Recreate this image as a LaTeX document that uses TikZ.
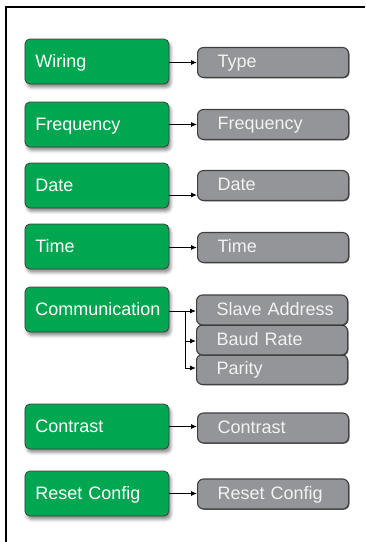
\documentclass[tikz,border=0pt]{standalone}
\usepackage{fontspec}
\setmainfont{Liberation Sans}
\usetikzlibrary{arrows.meta,shadows.blur,shadows}
\definecolor{sgreen}{RGB}{0,166,80}
\definecolor{sgray}{RGB}{147,149,152}
\definecolor{sborder}{RGB}{64,64,64}
\tikzset{
  gbox/.style={rectangle, rounded corners=5pt, fill=sgreen, draw=sborder, line width=0.8pt,
    text=white, font=\fontsize{18}{20}\selectfont, align=left, text width=123pt, inner xsep=10.5pt,
    minimum height=45pt, text height=12.9pt, text depth=0pt, anchor=west,
    blur shadow={shadow xshift=2pt, shadow yshift=-3.5pt, shadow blur radius=3pt, shadow opacity=45}},
  tbox/.style={rectangle, rounded corners=6pt, fill=sgray, draw=sborder, line width=1.1pt,
    text=white!95!black, font=\fontsize{18}{20}\selectfont, align=left, text width=131pt, inner xsep=10pt,
    minimum height=30pt, text height=12.9pt, text depth=2pt, anchor=west,
    execute at begin node={\hspace*{10pt}},
    drop shadow={shadow xshift=1pt, shadow yshift=-0.8pt, fill=black, opacity=0.6}},
  arr/.style={line width=0.9pt, black, -{Latex[length=6pt,width=5pt]}},
  frame/.style={line width=1.3pt, black}
}
\begin{document}
\begin{tikzpicture}[x=1pt,y=-1pt]
\useasboundingbox (0,0) rectangle (365,542);
\coordinate (f1) at (6,542);
\coordinate (f2) at (6,7);
\coordinate (f3) at (365,7);
\draw[frame] (f1) -- (f2) -- (f3);

\node[gbox] (wiring) at (24.5,61.5) {Wiring};
\node[gbox] (freq) at (24.5,124.5) {Frequency};
\node[gbox] (date) at (24.5,185.5) {Date};
\node[gbox] (time) at (24.5,246.5) {Time};
\node[gbox] (comm) at (24.5,309.5) {Communication};
\node[gbox] (contrast) at (24.5,426.5) {Contrast};
\node[gbox] (reset) at (24.5,493.5) {Reset Config};

\node[tbox] (type) at (197,62.5) {Type};
\node[tbox] (gfreq) at (197,124.5) {Frequency};
\node[tbox] (gdate) at (197,185.5) {Date};
\node[tbox] (gtime) at (197,247.5) {Time};
\node[tbox] (parity) at (196,369.5) {Parity};
\node[tbox] (baud) at (196,340) {Baud Rate};
\node[tbox] (slave) at (196,310) {Slave Address};
\node[tbox] (gcontrast) at (197,428) {Contrast};
\node[tbox] (greset) at (197,494) {Reset Config};

\draw[arr] (wiring.east |- type.west) -- (type.west);
\draw[arr] (freq.east) -- (gfreq.west);
\draw[arr] ([yshift=-9.5pt]date.east) -- ([yshift=-9.5pt]gdate.west);
\draw[arr] (time.east |- gtime.west) -- (gtime.west);
\coordinate (j) at (185,311);
\draw[line width=0.9pt] (comm.east |- j) -- (j);
\draw[arr] (j) -- (slave.west |- j);
\draw[arr] (j) |- ([yshift=-1pt]baud.west);
\draw[arr] (j) |- ([yshift=1.5pt]parity.west);
\draw[arr] (contrast.east) -- (gcontrast.west |- contrast.east);
\draw[arr] (reset.east) -- (greset.west |- reset.east);
\end{tikzpicture}
\end{document}
